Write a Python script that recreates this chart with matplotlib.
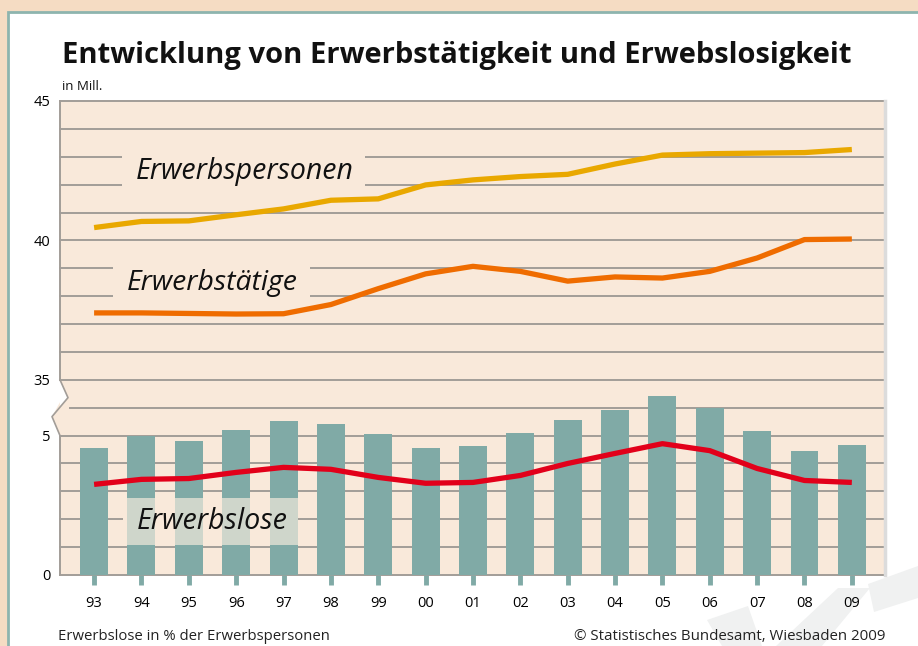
import matplotlib
matplotlib.use('Agg')
import matplotlib.pyplot as plt
from matplotlib.patches import Rectangle, Polygon
import numpy as np

years = ['93', '94', '95', '96', '97', '98', '99', '00', '01', '02',
         '03', '04', '05', '06', '07', '08', '09']

# bars (lower scale, 0..6)
erwerbslose = [4.57, 4.98, 4.79, 5.21, 5.54, 5.43, 5.04, 4.54, 4.61,
               5.11, 5.57, 5.93, 6.43, 6.00, 5.18, 4.43, 4.68]
# red line (lower scale)
quote = [3.25, 3.43, 3.46, 3.68, 3.86, 3.79, 3.50, 3.29, 3.32,
         3.57, 4.00, 4.36, 4.71, 4.46, 3.82, 3.39, 3.32]
# upper scale, in Mill.
erwerbspersonen = [40.46, 40.68, 40.70, 40.92, 41.13, 41.44, 41.49, 41.99, 42.17,
                   42.29, 42.37, 42.74, 43.06, 43.11, 43.13, 43.15, 43.26]
erwerbstaetige = [37.40, 37.40, 37.38, 37.36, 37.37, 37.70, 38.27, 38.80, 39.07,
                  38.89, 38.54, 38.69, 38.65, 38.89, 39.37, 40.03, 40.05]

ytick_pos = [0, 5, 7, 12, 17]
ytick_labels = ['0', '5', '35', '40', '45']
OFFSET = 28  # upper scale value -> axis coordinate (35 -> 7)

PEACH = '#f9e9da'
TEAL = '#80aaa6'
GRID = '#a29d98'
FONT = 'Open Sans'

fig = plt.figure(figsize=(9.18, 6.46), dpi=100)
fig.patch.set_facecolor('#f5dcc3')

W, H = 918, 646
def fx(px): return px / W
def fy(py): return 1 - py / H

# white card with teal border
fig.patches.append(Rectangle((fx(8), fy(666)), fx(1000), fy(12) - fy(666),
                             transform=fig.transFigure, facecolor='white',
                             edgecolor='#8db4ae', linewidth=2, zorder=0))

# watermark shapes
for pts in [[(707, 620), (748, 606), (762, 646), (722, 646)],
            [(776, 646), (822, 646), (870, 588), (838, 588)],
            [(868, 584), (918, 566), (918, 598), (874, 612)]]:
    fig.patches.append(Polygon([(fx(a), fy(b)) for a, b in pts], closed=True,
                               transform=fig.transFigure, facecolor='#f0f1f1',
                               edgecolor='none', zorder=0.5))

ax = fig.add_axes([fx(60), fy(575), fx(885) - fx(60), fy(101) - fy(575)])
ax.set_zorder(2)
ax.set_facecolor(PEACH)
ax.set_xlim(-0.72, 16.7)
ax.set_ylim(0, 17)
for s in ['left', 'top', 'bottom']:
    ax.spines[s].set_visible(False)
ax.spines['right'].set_color('#dcdcdc')
ax.spines['right'].set_linewidth(2.5)

x = np.arange(len(years))

# grid lines
for g in range(18):
    x0 = -0.51 if g == 6 else -0.72
    ax.plot([x0, 16.7], [g, g], color=GRID, lw=1.4, zorder=1, clip_on=False)

# left axis with break
xl = -0.72
dx = 8 / 47.4
ax.plot([xl, xl], [17, 7], color=GRID, lw=1.4, clip_on=False, zorder=3)
ax.plot([xl, xl + dx, xl - dx, xl], [7, 6.36, 5.68, 5],
        color=GRID, lw=1.2, clip_on=False, zorder=3)
ax.add_patch(Polygon([(xl, 7), (xl + dx, 6.36), (xl, 6.0)], closed=True,
                     facecolor='white', edgecolor='none', zorder=2.5, clip_on=False))
ax.add_patch(Polygon([(xl, 6.2), (xl - dx, 5.68), (xl, 5)], closed=True,
                     facecolor=PEACH, edgecolor='none', zorder=2.5, clip_on=False))
ax.plot([xl, xl], [5, 0], color=GRID, lw=1.4, clip_on=False, zorder=3)

# label backgrounds hiding grid lines
ax.add_patch(Rectangle((0.59, 13.6), 5.13, 1.75, facecolor=PEACH, edgecolor='none', zorder=1.5))
ax.add_patch(Rectangle((0.40, 9.72), 4.16, 1.55, facecolor=PEACH, edgecolor='none', zorder=1.5))
ax.add_patch(Rectangle((0.61, 1.07), 3.67, 1.68, facecolor=PEACH, edgecolor='none', zorder=1.5))

# bars
ax.bar(x, erwerbslose, width=0.59, color=TEAL, zorder=2)
ax.bar(x[1:5], [1.68] * 4, bottom=1.07, width=0.59, color='#cfd6cb', zorder=2.2)

# lines
ax.plot(x, quote, color='#e2001a', lw=3.8, zorder=4, solid_capstyle='butt',
        solid_joinstyle='round')
ax.plot(x, np.array(erwerbspersonen) - OFFSET, color='#e9a800', lw=3.8, zorder=4,
        solid_capstyle='butt', solid_joinstyle='round')
ax.plot(x, np.array(erwerbstaetige) - OFFSET, color='#ef6c00', lw=3.8, zorder=4,
        solid_capstyle='butt', solid_joinstyle='round')

# series labels
lab = dict(fontsize=20, style='italic', family=FONT, color='#111111', zorder=5,
           va='center', ha='center')
l1 = ax.text(3.19, 14.46, 'Erwerbspersonen', **lab)
l2 = ax.text(2.49, 10.46, 'Erwerbstätige', **lab)
l3 = ax.text(2.49, 1.93, 'Erwerbslose', **lab)

# ticks
ax.set_yticks(ytick_pos)
ax.set_yticklabels(ytick_labels, family=FONT, fontsize=10.5, color='black')
ax.tick_params(axis='y', length=0, pad=7)
ax.set_xticks(x)
ax.set_xticklabels(years, family=FONT, fontsize=10.5, color='black')
ax.tick_params(axis='x', length=7, width=3.5, color=TEAL, pad=8, direction='out')

# title and notes
t = fig.text(fx(62), fy(55), 'Entwicklung von Erwerbstätigkeit und Erwebslosigkeit',
             family=FONT, weight='bold', fontsize=21, va='center', ha='left',
             color='#111111')
f1 = fig.text(fx(58), fy(636), 'Erwerbslose in % der Erwerbspersonen', family=FONT,
              fontsize=9.5, va='center', ha='left', color='#222222')
f2 = fig.text(fx(886), fy(636), '© Statistisches Bundesamt, Wiesbaden 2009', family=FONT,
              fontsize=9.5, va='center', ha='right', color='#222222')
fig.text(fx(62), fy(87), 'in Mill.', family=FONT, fontsize=9.5, va='center',
         ha='left', color='#111111')
fig.canvas.draw()
for txt, target in [(t, 788), (f1, 274), (f2, 315), (l1, 218), (l2, 171), (l3, 151)]:
    w = txt.get_window_extent().width
    txt.set_fontsize(txt.get_fontsize() * target / w)

fig.savefig('out.png', dpi=100, facecolor=fig.get_facecolor())
